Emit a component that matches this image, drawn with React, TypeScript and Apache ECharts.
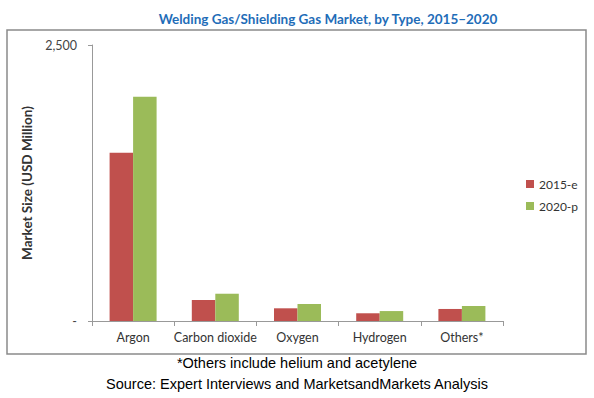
import React, { useEffect, useRef } from "react";
import * as echarts from "echarts";

const categories = ["Argon", "Carbon dioxide", "Oxygen", "Hydrogen", "Others*"];
const values2015 = [1524, 190, 115, 70, 109];
const values2020 = [2032, 247, 154, 90, 136];
const seriesNames = ["2015-e", "2020-p"];
const yTicks = [0, 2500];

const titleText = "Welding Gas/Shielding Gas Market, by Type, 2015\u20132020";
const yAxisName = "Market Size (USD Million)";
const footnote = "*Others include helium and acetylene";
const sourceText = "Source: Expert Interviews and MarketsandMarkets Analysis";

export default function App() {
  const ref = useRef<HTMLDivElement>(null);
  useEffect(() => {
    if (!ref.current) return;
    const chart = echarts.init(ref.current, null, { renderer: "svg" });
    const font = "Lato, 'Open Sans', sans-serif";
    chart.setOption({
      animation: false,
      backgroundColor: "#ffffff",
      title: {
        text: titleText,
        left: 323,
        top: 7,
        textAlign: "center",
        textStyle: { fontFamily: font, fontSize: 13.5, fontWeight: "bold", color: "#1F6DB8" },
      },
      legend: {
        orient: "vertical",
        left: 521,
        top: 173,
        itemWidth: 8,
        itemHeight: 8,
        itemGap: 10,
        icon: "rect",
        textStyle: { fontFamily: font, fontSize: 12, color: "#333" },
        data: seriesNames,
      },
      grid: { left: 92, top: 45, right: 91, bottom: 77, containLabel: false },
      xAxis: {
        type: "category",
        data: categories,
        axisLine: { lineStyle: { color: "#999", width: 1 } },
        axisTick: { show: true, alignWithLabel: false, length: 5, lineStyle: { color: "#999" } },
        axisLabel: { interval: 0, fontFamily: font, fontSize: 12.5, color: "#333", margin: 10 },
      },
      yAxis: {
        type: "value",
        min: yTicks[0],
        max: yTicks[1],
        interval: 2500,
        name: yAxisName,
        nameLocation: "middle",
        nameGap: 53,
        nameTextStyle: { fontFamily: font, fontSize: 13.5, fontWeight: "bold", color: "#333" },
        axisLine: { show: true, lineStyle: { color: "#999", width: 1 } },
        axisTick: { show: true, length: 4, lineStyle: { color: "#999" } },
        splitLine: { show: false },
        axisLabel: {
          fontFamily: font,
          fontSize: 12.5,
          color: "#444",
          margin: 15,
          formatter: (v: number) => (v === 0 ? "-" : v.toLocaleString("en-US")),
        },
      },
      series: [
        {
          name: seriesNames[0],
          type: "bar",
          data: values2015,
          barWidth: 23.5,
          barGap: "0%",
          itemStyle: { color: "#C0504D" },
        },
        {
          name: seriesNames[1],
          type: "bar",
          data: values2020,
          barWidth: 23.5,
          barGap: "0%",
          itemStyle: { color: "#9BBB59" },
        },
      ],
      graphic: [
        {
          type: "rect",
          shape: { x: 7, y: 30, width: 579, height: 324 },
          style: { fill: "none", stroke: "#8a8a8a", lineWidth: 1.5 },
          silent: true,
        },
        {
          type: "text",
          x: 297,
          y: 363,
          style: {
            text: footnote,
            fontFamily: "'Liberation Sans', Arial, sans-serif",
            fontSize: 14.5,
            fill: "#000",
            textAlign: "center",
            textVerticalAlign: "middle",
          },
        },
        {
          type: "text",
          x: 297,
          y: 384,
          style: {
            text: sourceText,
            fontFamily: "'Liberation Sans', Arial, sans-serif",
            fontSize: 14.5,
            fill: "#000",
            textAlign: "center",
            textVerticalAlign: "middle",
          },
        },
      ],
    });
    return () => chart.dispose();
  }, []);
  return (
    <div
      ref={ref}
      style={{ position: "fixed", left: 0, top: 0, width: 594, height: 398, background: "#fff" }}
    />
  );
}
